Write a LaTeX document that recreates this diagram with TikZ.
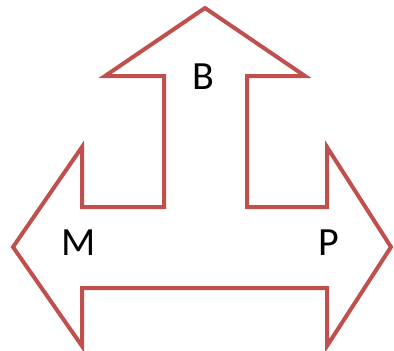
\documentclass[tikz,border=0pt]{standalone}
\usepackage{fontspec}
\setmainfont{Carlito}
\usepackage{xcolor}
\definecolor{arrowRed}{RGB}{192,80,77}
\usetikzlibrary{positioning}

\begin{document}
\begin{tikzpicture}[
    x=1pt, y=-1pt,
    outline/.style={draw=arrowRed, line width=4pt, line join=miter, fill=white},
    letter/.style={font=\fontsize{40}{40}\selectfont, text=black, inner sep=0pt}
  ]
    \useasboundingbox (0,0) rectangle (394,351);

    % three-way arrow outline
    \draw[outline] (205,8) -- (305,76) -- (247,76) -- (247,207) -- (327,207)
      -- (327,147) -- (391,247) -- (327,346) -- (327,288) -- (82,288)
      -- (82,346) -- (13,247) -- (82,147) -- (82,207) -- (164,207)
      -- (164,76) -- (105,76) -- cycle;

    \node[letter] (up) at (203,77) {B};
    \node[letter] (left) at (79,243) {M};
    \node[letter] (right) at (329,243) {P};
  \end{tikzpicture}
\end{document}
